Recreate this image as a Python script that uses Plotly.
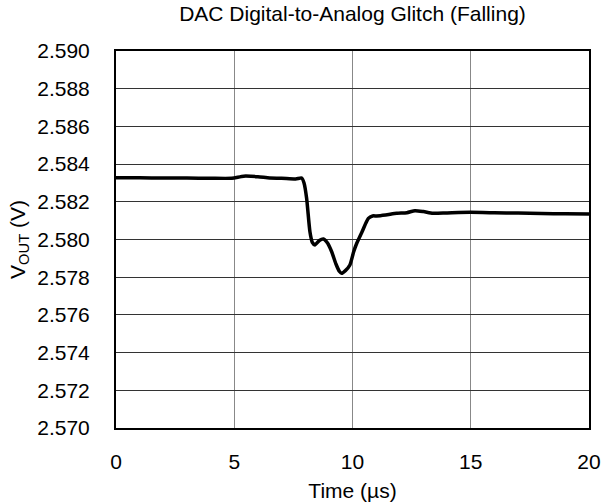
import plotly.graph_objects as go

# Output voltage during a falling DAC code transition
time_us = [0.0, 1.0, 2.0, 3.0, 4.0, 4.9, 5.4, 6.0, 6.5, 7.0, 7.6, 7.85, 7.95,
           8.06, 8.2, 8.3, 8.41, 8.6, 8.77, 8.95, 9.12, 9.3, 9.45, 9.54, 9.7,
           9.89, 10.05, 10.18, 10.4, 10.67, 10.85, 11.02, 11.4, 11.87, 12.3,
           12.64, 13.0, 13.4, 14.0, 14.97, 16.0, 17.0, 18.0, 19.0, 20.0]
vout_v = [2.58328, 2.58327, 2.58326, 2.58326, 2.58325, 2.58325, 2.58336,
          2.58333, 2.58326, 2.58325, 2.58321, 2.58326, 2.58300, 2.58219,
          2.58041, 2.57985, 2.57971, 2.57995, 2.58003, 2.57980, 2.57935,
          2.57870, 2.57830, 2.57821, 2.57835, 2.57865, 2.57935, 2.57980,
          2.58040, 2.58112, 2.58125, 2.58125, 2.58130, 2.58139, 2.58142,
          2.58153, 2.58148, 2.58139, 2.58141, 2.58144, 2.58142, 2.58140,
          2.58138, 2.58136, 2.58135]

x_ticks = [0, 5, 10, 15, 20]
y_ticks = [2.570, 2.572, 2.574, 2.576, 2.578, 2.580, 2.582, 2.584, 2.586,
           2.588, 2.590]

FONT = "Liberation Sans, Arial, sans-serif"
FS = 21

fig = go.Figure(
    go.Scatter(
        x=time_us, y=vout_v, mode="lines",
        line=dict(color="black", width=3.5, shape="spline", smoothing=0.6),
        showlegend=False, hoverinfo="skip",
    )
)

fig.update_layout(
    width=612, height=502,
    margin=dict(l=116, r=23, t=51, b=74),
    paper_bgcolor="white", plot_bgcolor="white",
    font=dict(family=FONT, size=FS, color="black"),
    title=dict(
        text="DAC Digital-to-Analog Glitch (Falling)",
        x=(116 + 589) / 2 / 612, xanchor="center",
        y=1 - 14 / 502, yanchor="middle", yref="container",
        font=dict(family=FONT, size=FS, color="black"),
    ),
)

fig.update_xaxes(
    range=[0, 20], tickvals=x_ticks, ticktext=[str(v) for v in x_ticks],
    showgrid=True, gridcolor="#888888", gridwidth=1,
    showline=True, linecolor="black", linewidth=2, mirror=True,
    ticks="outside", ticklen=0, ticklabelstandoff=14,
    zeroline=False,
    title=dict(text="Time (µs)", standoff=11, font=dict(size=FS)),
    automargin=False,
)
fig.update_yaxes(
    range=[2.570, 2.590], tickvals=y_ticks,
    ticktext=[f"{v:.3f}" for v in y_ticks],
    showgrid=True, gridcolor="#333333", gridwidth=1,
    showline=True, linecolor="black", linewidth=2, mirror=True,
    ticks="outside", ticklen=0, ticklabelstandoff=20,
    zeroline=False,
    title=dict(text="V<sub>OUT</sub> (V)", standoff=6, font=dict(size=FS)),
    automargin=False,
)

fig.write_html("out.html")
